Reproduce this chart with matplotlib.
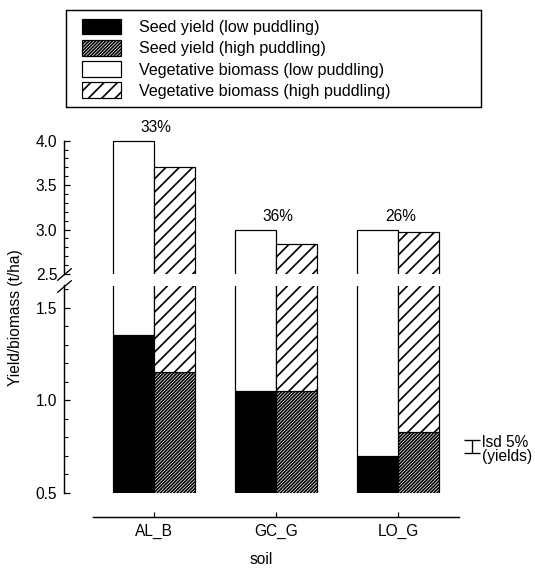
import numpy as np
import matplotlib.pyplot as plt
from matplotlib.patches import Rectangle
from matplotlib.ticker import MultipleLocator

plt.rcParams['font.family'] = ['Liberation Sans', 'DejaVu Sans']
plt.rcParams['font.size'] = 14
plt.rcParams['hatch.linewidth'] = 1.5
plt.rcParams['hatch.color'] = 'black'

# yields and total biomass per soil (t/ha)
soils = ['AL_B', 'GC_G', 'LO_G']
seed_low = [1.35, 1.05, 0.70]
seed_high = [1.15, 1.05, 0.83]
total_low = [4.00, 3.00, 3.00]
total_high = [3.70, 2.84, 2.97]
harvest_index = ['33%', '36%', '26%']
lsd_yield = 0.07

DPI = 80
W, H = 535, 569


def box(x0, y0, x1, y1):
    # pixel box (top-left origin) -> figure fraction rect
    return [x0 / W, 1 - y1 / H, (x1 - x0) / W, (y1 - y0) / H]


fig = plt.figure(figsize=(W / DPI, H / DPI), dpi=DPI)
ax_lo = fig.add_axes(box(64, 285.5, 459, 492.7))
ax_hi = fig.add_axes(box(64, 138.9, 459, 274))

x = np.arange(len(soils))
w = 0.335
veg_low = np.array(total_low) - np.array(seed_low)
veg_high = np.array(total_high) - np.array(seed_high)

handles = []
for ax in (ax_lo, ax_hi):
    b1 = ax.bar(x - w / 2, seed_low, w, color='black', edgecolor='black', lw=1.1)
    b2 = ax.bar(x + w / 2, seed_high, w, color='white', edgecolor='black', lw=1.1, hatch='////////')
    b3 = ax.bar(x - w / 2, veg_low, w, bottom=seed_low, color='white', edgecolor='black', lw=1.1)
    b4 = ax.bar(x + w / 2, veg_high, w, bottom=seed_high, color='white', edgecolor='black', lw=1.1, hatch='//')
    handles = [b1, b2, b3, b4]
    ax.set_xlim(-0.738, 2.5)
    ax.spines['top'].set_visible(False)
    ax.spines['right'].set_visible(False)
    ax.spines['left'].set_linewidth(1.3)
    ax.yaxis.set_major_locator(MultipleLocator(0.5))
    ax.yaxis.set_minor_locator(MultipleLocator(0.1))
    ax.yaxis.set_major_formatter('{x:.1f}')
    ax.tick_params(axis='y', which='major', direction='in', length=5.5, width=1.1, pad=6)
    ax.tick_params(axis='y', which='minor', direction='in', length=3.5, width=1.0)

ax_lo.set_ylim(0.5, 1.62)
ax_hi.set_ylim(2.5, 4.02)
ax_lo.spines['left'].set_bounds(0.5, 1.62)
ax_hi.spines['left'].set_bounds(2.5, 4.0)

ax_hi.spines['bottom'].set_visible(False)
ax_hi.tick_params(axis='x', bottom=False, labelbottom=False)

ax_lo.spines['bottom'].set_position(('outward', 21.6))
ax_lo.spines['bottom'].set_bounds(-0.5, 2.5)
ax_lo.spines['bottom'].set_linewidth(1.3)
ax_lo.set_xticks(x, soils)
ax_lo.tick_params(axis='x', direction='in', length=4.5, width=1.1, pad=6)
ax_lo.set_xlabel('soil', labelpad=12.5)

# harvest index above each pair
for i, lbl in enumerate(harvest_index):
    ax_hi.annotate(lbl, (x[i], max(total_low[i], total_high[i])), xytext=(2, 11.7),
                   textcoords='offset points', ha='center', va='center',
                   annotation_clip=False)

# axis break marks
kw = dict(marker=[(-1, -0.85), (1, 0.85)], markersize=13, linestyle='none',
          color='k', mec='k', mew=1.2, clip_on=False)
ax_hi.plot([0], [0], transform=ax_hi.transAxes, **kw)
ax_lo.plot([0], [1], transform=ax_lo.transAxes, **kw)

# lsd bar
eb = ax_lo.errorbar(2.607, 0.75, yerr=lsd_yield / 2, fmt='none', ecolor='k',
                    elinewidth=1.2, capsize=7, capthick=1.2)
for art in eb.get_children():
    art.set_clip_on(False)
ax_lo.text(2.69, 0.733, 'lsd 5%\n(yields)', ha='left', va='center',
           linespacing=0.95, clip_on=False)

fig.text(16 / W, 1 - 318 / H, 'Yield/biomass (t/ha)', rotation=90,
         ha='center', va='center')

labels = ['Seed yield (low puddling)', 'Seed yield (high puddling)',
          'Vegetative biomass (low puddling)', 'Vegetative biomass (high puddling)']
fig.legend(handles, labels, loc='upper left', bbox_to_anchor=(82 / W, 1 - 18.5 / H),
           frameon=False, borderpad=0, borderaxespad=0, handlelength=2.4,
           handleheight=1.15, labelspacing=0.3, handletextpad=1.15,
           fontsize=14.5)
fig.add_artist(Rectangle((66 / W, 1 - 107 / H), (481 - 66) / W, (107 - 10) / H,
                         transform=fig.transFigure, fill=False, lw=1.3,
                         edgecolor='black'))

fig.savefig('out.png', dpi=DPI)
